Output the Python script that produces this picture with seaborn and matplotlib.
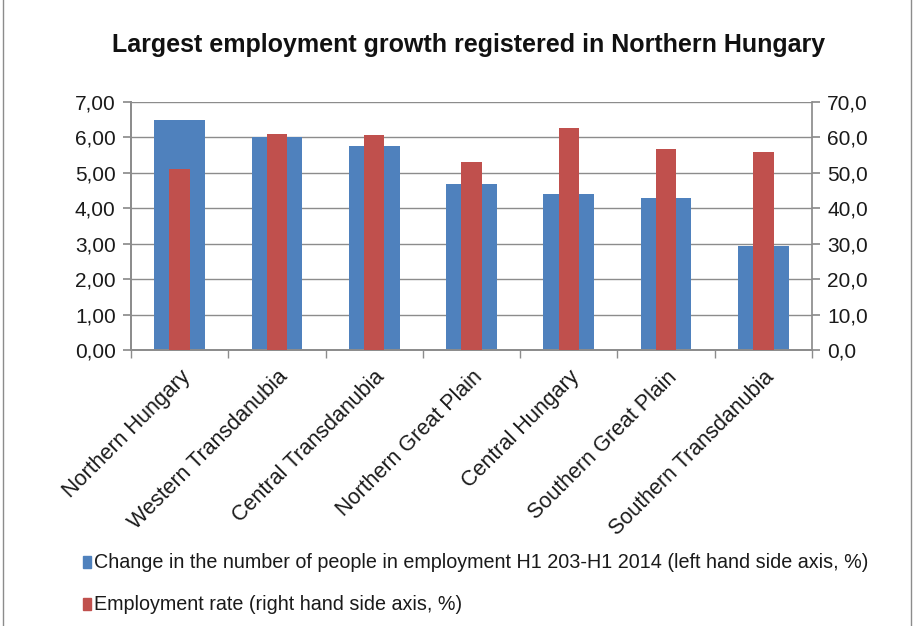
import matplotlib
matplotlib.use("Agg")
import matplotlib.pyplot as plt
import seaborn as sns
import pandas as pd
from matplotlib.ticker import FuncFormatter
from matplotlib.patches import Rectangle

regions = ["Northern Hungary", "Western Transdanubia", "Central Transdanubia",
           "Northern Great Plain", "Central Hungary", "Southern Great Plain",
           "Southern Transdanubia"]
change_emp = [6.50, 6.00, 5.75, 4.69, 4.39, 4.28, 2.94]
emp_rate = [51.0, 61.1, 60.8, 53.0, 62.7, 56.6, 56.0]

title = "Largest employment growth registered in Northern Hungary"
label_blue = "Change in the number of people in employment H1 203-H1 2014 (left hand side axis, %)"
label_red = "Employment rate (right hand side axis, %)"

blue = "#4F81BD"
red = "#C0504D"

sns.set_theme(style="white")
plt.rcParams['font.family'] = ['Liberation Sans', 'DejaVu Sans']

df = pd.DataFrame({"region": regions, "change": change_emp, "rate": emp_rate})

fig = plt.figure(figsize=(9.17, 6.26), dpi=100)
ax = fig.add_axes([131/917, 1-350/626, (812-131)/917, (350-102)/626])
ax2 = ax.twinx()

sns.barplot(data=df, x="region", y="change", color=blue, width=0.52,
            saturation=1, linewidth=0, ax=ax, zorder=2)
sns.barplot(data=df, x="region", y="rate", color=red, width=0.21,
            saturation=1, linewidth=0, ax=ax2, zorder=3)

ax.set_ylim(0, 7)
ax2.set_ylim(0, 70)
ax.set_xlim(-0.5, len(regions) - 0.5)
ax.set_yticks([i for i in range(8)])
ax2.set_yticks([i * 10 for i in range(8)])
ax.yaxis.set_major_formatter(FuncFormatter(lambda v, p: f"{v:.2f}".replace(".", ",")))
ax2.yaxis.set_major_formatter(FuncFormatter(lambda v, p: f"{v:.1f}".replace(".", ",")))

ax.grid(axis="y", color="#8c8c8c", linewidth=1.0, zorder=0)
ax.set_axisbelow(True)
ax.set_xlabel("")
ax.set_ylabel("")
ax2.set_ylabel("")

ax.spines["top"].set_visible(False)
ax.spines["right"].set_visible(False)
ax2.spines["top"].set_visible(False)
for a in (ax, ax2):
    for s in ("left", "right", "bottom"):
        a.spines[s].set_color("#8c8c8c")

ax.tick_params(axis="y", which="major", left=True, length=6, color="#8c8c8c",
               labelsize=15, labelcolor="#1a1a1a", pad=5)
ax2.tick_params(axis="y", which="major", right=True, length=6, color="#8c8c8c",
                labelsize=15, labelcolor="#1a1a1a", pad=5)

ax.set_xticks(range(len(regions)))
ax.set_xticklabels(regions, rotation=45, ha="right", rotation_mode="anchor",
                   fontsize=15.5, color="#1a1a1a")
ax.tick_params(axis="x", which="major", bottom=True, direction="in", length=5,
               color="#8c8c8c", pad=12)
ax.set_xticks([i - 0.5 for i in range(len(regions) + 1)], minor=True)
ax.tick_params(axis="x", which="minor", bottom=True, direction="out", length=6,
               color="#8c8c8c")

fig.text(469/917, 1 - 45/626, title, ha="center", va="center",
         fontsize=18, fontweight="bold", color="#111111")

# legend
fig.patches.append(Rectangle((83/917, 1 - 568/626), 8/917, 12/626,
                             transform=fig.transFigure, color=blue, figure=fig))
fig.text(94/917, 1 - 562/626, label_blue, ha="left", va="center",
         fontsize=14.2, color="#1a1a1a")
fig.patches.append(Rectangle((83/917, 1 - 610/626), 8/917, 12/626,
                             transform=fig.transFigure, color=red, figure=fig))
fig.text(94/917, 1 - 604/626, label_red, ha="left", va="center",
         fontsize=14.2, color="#1a1a1a")

# outer frame
fig.patches.append(Rectangle((3/917, -0.01), 908/917, 1.02, transform=fig.transFigure,
                             fill=False, edgecolor="#8c8c8c", linewidth=1, figure=fig))

fig.savefig("out.png", dpi=100)
